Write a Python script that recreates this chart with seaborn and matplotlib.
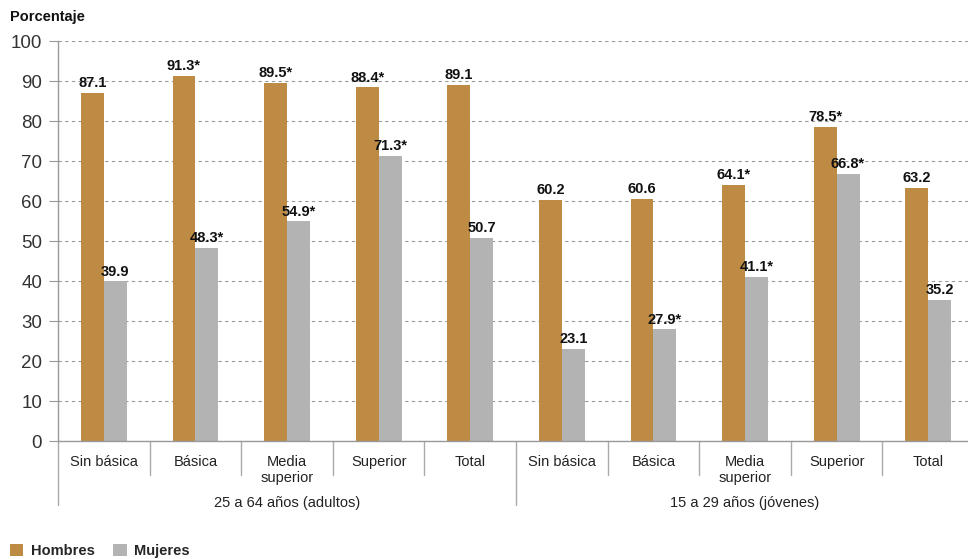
import matplotlib
matplotlib.use("Agg")
import matplotlib.pyplot as plt
import matplotlib.transforms as mtransforms
from matplotlib.patches import Patch
import seaborn as sns
import pandas as pd

groups = ["25 a 64 años (adultos)", "15 a 29 años (jóvenes)"]
niveles = ["Sin básica", "Básica", "Media\nsuperior", "Superior", "Total"]
hombres = [87.1, 91.3, 89.5, 88.4, 89.1, 60.2, 60.6, 64.1, 78.5, 63.2]
mujeres = [39.9, 48.3, 54.9, 71.3, 50.7, 23.1, 27.9, 41.1, 66.8, 35.2]
hombres_lbl = ["87.1", "91.3*", "89.5*", "88.4*", "89.1", "60.2", "60.6", "64.1*", "78.5*", "63.2"]
mujeres_lbl = ["39.9", "48.3*", "54.9*", "71.3*", "50.7", "23.1", "27.9*", "41.1*", "66.8*", "35.2"]
series = ["Hombres", "Mujeres"]
colors = {"Hombres": "#BE8B45", "Mujeres": "#B3B3B3"}

keys = [f"{g}|{n}" for g in groups for n in niveles]
rows = []
for k, h, m in zip(keys, hombres, mujeres):
    rows.append({"cat": k, "sexo": "Hombres", "val": h})
    rows.append({"cat": k, "sexo": "Mujeres", "val": m})
df = pd.DataFrame(rows)

sns.set_theme(style="white")
plt.rcParams["font.family"] = ["Liberation Sans", "DejaVu Sans"]

fig = plt.figure(figsize=(9.68, 5.59), dpi=100)
ax = fig.add_axes([58 / 968, 1 - 441 / 559, (974 - 58) / 968, 400 / 559])

sns.barplot(data=df, x="cat", y="val", hue="sexo", order=keys, hue_order=series,
            palette=colors, width=0.5, ax=ax, legend=False, saturation=1,
            linewidth=0, errorbar=None)

# value labels
for cont, labels in zip(ax.containers, [hombres_lbl, mujeres_lbl]):
    ax.bar_label(cont, labels=labels, padding=2, fontsize=10.5, fontweight="bold", color="#111111")

ax.set_ylim(0, 100)
ax.set_xlim(-0.5, 9.5)
ax.set_yticks(range(0, 101, 10))
ax.tick_params(axis="y", labelsize=13.5, length=6.5, width=0.8, color="#999999", labelcolor="#333333", pad=5, left=True)
ax.set_xticks(range(10))
ax.set_xticklabels(niveles * 2, fontsize=10.5, color="#222222", linespacing=1.2)
ax.tick_params(axis="x", length=0, pad=10)
ax.set_xlabel("")
ax.set_ylabel("")

ax.grid(axis="y", linestyle=(0, (3, 3)), color="#999999", linewidth=0.8)
ax.set_axisbelow(True)
for s in ["top", "right"]:
    ax.spines[s].set_visible(False)
ax.spines["left"].set_color("#999999")
ax.spines["bottom"].set_color("#999999")
ax.spines["left"].set_linewidth(1.0)
ax.spines["bottom"].set_linewidth(1.0)

# separators below axis
trans = mtransforms.blended_transform_factory(ax.transData, ax.transAxes)
px = 1 / 400
for i in range(11):
    xb = i - 0.5
    if i in (0, 5, 10):
        y_end = -64 * px
    else:
        y_end = -34 * px
    ax.plot([xb, xb], [0, y_end], transform=trans, color="#AAAAAA", lw=1.0, clip_on=False)

# group labels
for gi, g in enumerate(groups):
    ax.text(gi * 5 + 2, -62 * px, g, transform=trans, ha="center", va="center",
            fontsize=10.5, color="#222222")

fig.text(10 / 968, 1 - 17 / 559, "Porcentaje", fontsize=10.5, fontweight="bold",
         ha="left", va="center", color="#111111")

handles = [Patch(facecolor=colors[s], edgecolor="none", label=s) for s in series]
leg = fig.legend(handles=handles, loc="lower left", bbox_to_anchor=(-0.003, -0.022), ncol=2,
                 frameon=False, handlelength=0.9, handleheight=0.9, handletextpad=0.5,
                 columnspacing=1.3, prop={"weight": "bold", "size": 10.5})

fig.savefig("out.png", dpi=100)
